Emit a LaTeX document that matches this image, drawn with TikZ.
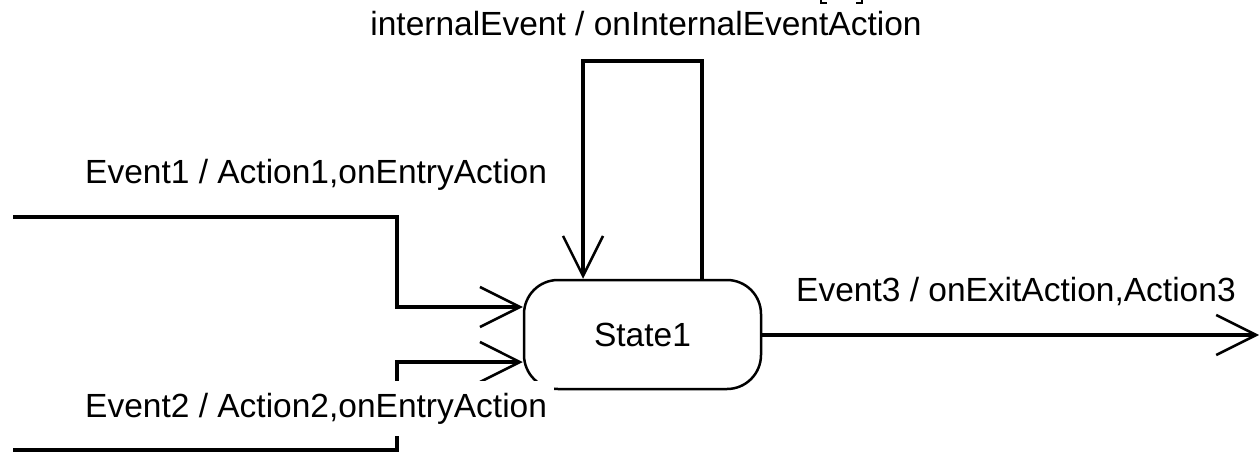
\documentclass[tikz,border=0pt]{standalone}
\usepackage{fontspec}
\setmainfont{Liberation Sans}
\usetikzlibrary{arrows.meta}
\tikzset{
  conn/.style={line width=4.3pt},
  opentip/.style={-{Straight Barb[length=40pt,width=40pt,line width=2.5pt]}},
  statebox/.style={draw,line width=2.5pt,rounded corners=34pt,minimum width=237pt,minimum height=109pt,inner sep=0pt,font=\fontsize{33.5}{40}\selectfont},
  lbl/.style={inner xsep=7pt,inner ysep=12pt,text height=24pt,text depth=7pt,font=\fontsize{33.5}{40}\selectfont},
}
\begin{document}
\begin{tikzpicture}[x=1pt,y=-1pt]
\useasboundingbox[fill=white] (0,0) rectangle (1259,452);
% state
\node[statebox] (s) at (642.5,334.5) {State1};
% free ends
\coordinate (e1start) at (13,217);
\coordinate (e2start) at (13,450);
\coordinate (exitend) at (1259,335);
% Event1
\draw[conn,opentip] (e1start) -- (397,217) -- (397,307) -- (s.west |- 0,307);
% Event2
\draw[conn,opentip] (e2start) -- (397,450) -- (397,362) -- (s.west |- 0,362);
% internal loop
\draw[conn,opentip] (s.north -| 702,0) -- (702,61) -- (583,61) -- (s.north -| 583,0);
% exit
\draw[conn,opentip] (s.east |- 0,335) -- (exitend);
% labels
\node[lbl,anchor=base] (lint) at (646,36) {internalEvent / onInternalEventAction};
\node[lbl,anchor=base west] (l1) at (78,183) {Event1 / Action1,onEntryAction};
\node[lbl,anchor=base west,fill=white] (l2) at (78,417) {Event2 / Action2,onEntryAction};
\node[lbl,anchor=base west] (l3) at (789,301) {Event3 / onExitAction,Action3};
% cut-off fragments at the top edge
\draw[line width=2pt] (821,0) -- (821,3) -- (827,3);
\draw[line width=2pt] (862,0) -- (862,3) -- (856,3);
\end{tikzpicture}
\end{document}
